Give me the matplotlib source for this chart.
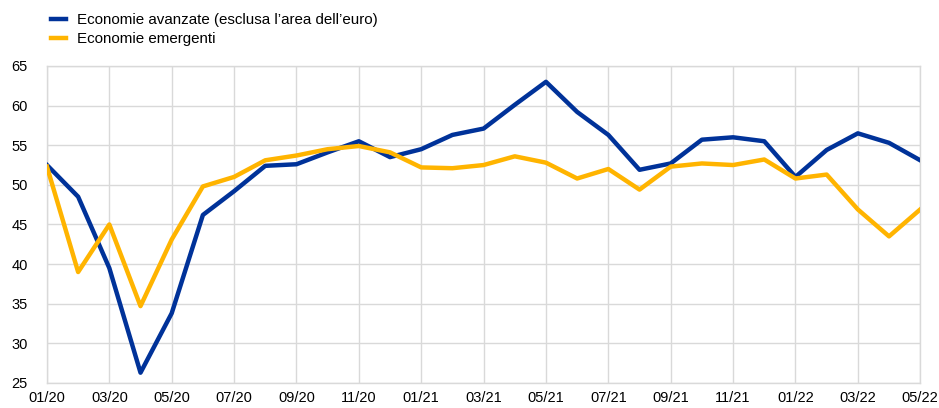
import numpy as np
import matplotlib
matplotlib.use("Agg")
import matplotlib.pyplot as plt

plt.rcParams['font.family'] = ['Liberation Sans', 'DejaVu Sans']

months = ['01/20', '02/20', '03/20', '04/20', '05/20', '06/20', '07/20', '08/20', '09/20', '10/20',
          '11/20', '12/20', '01/21', '02/21', '03/21', '04/21', '05/21', '06/21', '07/21', '08/21',
          '09/21', '10/21', '11/21', '12/21', '01/22', '02/22', '03/22', '04/22', '05/22']

avanzate = [52.5, 48.5, 39.5, 26.3, 33.8, 46.2, 49.2, 52.4, 52.6, 54.1,
            55.5, 53.5, 54.5, 56.3, 57.1, 60.1, 63.0, 59.2, 56.3, 51.9,
            52.7, 55.7, 56.0, 55.5, 51.0, 54.4, 56.5, 55.3, 53.1]

emergenti = [52.3, 39.0, 45.0, 34.7, 43.1, 49.8, 51.0, 53.1, 53.7, 54.5,
             54.9, 54.1, 52.2, 52.1, 52.5, 53.6, 52.8, 50.8, 52.0, 49.4,
             52.3, 52.7, 52.5, 53.2, 50.8, 51.3, 46.9, 43.5, 46.9]

label_avanzate = 'Economie avanzate (esclusa l\u2019area dell\u2019euro)'
label_emergenti = 'Economie emergenti'

blue = '#003299'
yellow = '#FFB400'
grid_col = '#d9d9d9'

fig = plt.figure(figsize=(9.39, 4.08), dpi=100)
ax = fig.add_axes([0.050, 0.0613, 0.930, 0.777])

x = np.arange(len(months))
ax.plot(x, avanzate, color=blue, lw=3.2, label=label_avanzate, zorder=3)
ax.plot(x, emergenti, color=yellow, lw=3.2, label=label_emergenti, zorder=4)

ax.set_xlim(0, len(months) - 1)
ax.set_ylim(25, 65)
ax.set_yticks(np.arange(25, 66, 5))
ax.set_xticks(x[::2])
ax.set_xticklabels(months[::2])

ax.grid(True, color=grid_col, lw=1)
ax.set_axisbelow(True)
for s in ax.spines.values():
    s.set_color(grid_col)
    s.set_linewidth(1)
ax.tick_params(length=0, labelsize=10.5, colors='#000000', pad=6)
ax.tick_params(axis='y', pad=14)

fig.legend(loc='upper left', bbox_to_anchor=(0.043, 0.993), frameon=False,
           fontsize=10.9, handlelength=1.0, handletextpad=0.75, labelspacing=0.3,
           borderaxespad=0.3)

plt.savefig('out.png', dpi=100)
